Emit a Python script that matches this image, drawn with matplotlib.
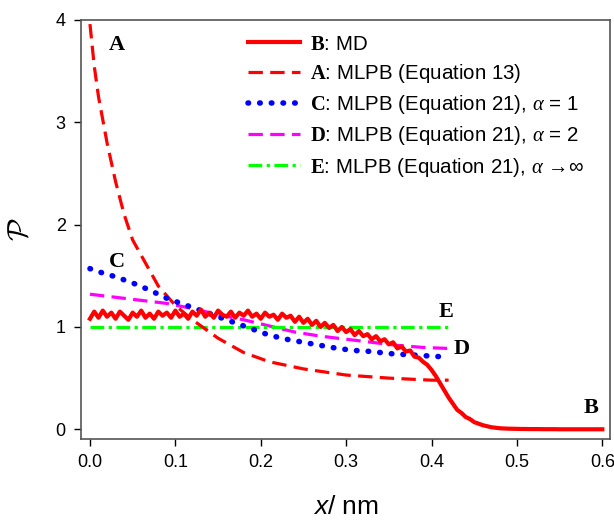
import numpy as np
import matplotlib
matplotlib.use('Agg')
import matplotlib.pyplot as plt

# fonts: Arial-like text, Times-like bold letters
plt.rcParams['font.family'] = ['Liberation Sans', 'DejaVu Sans']
plt.rcParams['mathtext.fontset'] = 'custom'
plt.rcParams['mathtext.rm'] = 'Liberation Sans'
plt.rcParams['mathtext.bf'] = 'Liberation Serif:bold'
plt.rcParams['mathtext.it'] = 'Liberation Serif:italic'
plt.rcParams['mathtext.sf'] = 'Liberation Sans:italic'

# B: MD profile, sampled every 0.005 nm
md_x = np.round(np.arange(0, 0.6001, 0.005), 3)
md_y = [1.08, 1.15, 1.09, 1.16, 1.10, 1.14, 1.08, 1.15, 1.11, 1.07,
        1.14, 1.10, 1.16, 1.09, 1.13, 1.08, 1.15, 1.11, 1.14, 1.09,
        1.16, 1.10, 1.13, 1.08, 1.15, 1.11, 1.17, 1.10, 1.14, 1.09,
        1.16, 1.12, 1.10, 1.15, 1.09, 1.14, 1.11, 1.16, 1.10, 1.13,
        1.08, 1.14, 1.10, 1.12, 1.07, 1.13, 1.09, 1.11, 1.05, 1.10,
        1.04, 1.08, 1.02, 1.06, 1.00, 1.04, 0.99, 1.02, 0.96, 1.00,
        0.95, 0.98, 0.92, 0.96, 0.91, 0.93, 0.88, 0.91, 0.86, 0.88,
        0.83, 0.85, 0.79, 0.81, 0.76, 0.77, 0.71, 0.70, 0.66, 0.63,
        0.58, 0.52, 0.45, 0.38, 0.31, 0.25, 0.19, 0.16, 0.12, 0.10,
        0.07, 0.055, 0.04, 0.03, 0.02, 0.015, 0.01, 0.008, 0.006, 0.005,
        0.004, 0.003, 0.003, 0.002, 0.002, 0.002, 0.001, 0.001, 0.001, 0.001,
        0, 0, 0, 0, 0, 0, 0, 0, 0, 0,
        0]

# A: MLPB (Equation 13)
a_x = [0, 0.005, 0.01, 0.02, 0.03, 0.04, 0.05, 0.06, 0.08, 0.10, 0.12,
       0.15, 0.18, 0.21, 0.25, 0.30, 0.35, 0.40, 0.42]
a_y = [3.96, 3.55, 3.25, 2.80, 2.42, 2.10, 1.85, 1.70, 1.40, 1.21, 1.07,
       0.89, 0.75, 0.66, 0.59, 0.53, 0.50, 0.48, 0.48]

# C: MLPB (Equation 21), alpha = 1
c_x = [0, 0.01, 0.03, 0.05, 0.07, 0.09, 0.11, 0.13, 0.15, 0.17, 0.19,
       0.21, 0.23, 0.25, 0.27, 0.29, 0.31, 0.33, 0.35, 0.37, 0.39, 0.41]
c_y = [1.57, 1.54, 1.49, 1.43, 1.36, 1.28, 1.22, 1.16, 1.10, 1.04, 0.98,
       0.92, 0.88, 0.85, 0.82, 0.79, 0.77, 0.76, 0.74, 0.73, 0.72, 0.71]

# D: MLPB (Equation 21), alpha = 2
d_x = [0, 0.03, 0.06, 0.09, 0.12, 0.15, 0.18, 0.21, 0.24, 0.27, 0.30,
       0.33, 0.36, 0.39, 0.42]
d_y = [1.32, 1.29, 1.26, 1.23, 1.18, 1.12, 1.07, 1.01, 0.95, 0.91, 0.88,
       0.85, 0.82, 0.80, 0.79]

# E: MLPB (Equation 21), alpha -> infinity
e_x = [0, 0.42]
e_y = [1.0, 1.0]

x_ticks = [0.0, 0.1, 0.2, 0.3, 0.4, 0.5, 0.6]
y_ticks = [0, 1, 2, 3, 4]

fig = plt.figure(figsize=(6.14, 5.21), dpi=100)
ax = fig.add_axes([81/614, 82/521, 529/614, 419/521])

lw = 2.3
ax.plot(md_x, md_y, color='#ff0000', lw=3.0, label=r'$\mathbf{B}$: MD', zorder=5)
ax.plot(a_x, a_y, color='#ff0000', lw=lw, dashes=(4.5, 2.3),
        label=r'$\mathbf{A}$: MLPB (Equation 13)', zorder=4)
ax.plot(c_x, c_y, color='#0000ff', lw=4.0, dashes=(0.1, 2.0),
        dash_capstyle='round', label=r'$\mathbf{C}$: MLPB (Equation 21), $\alpha$ = 1', zorder=4)
ax.plot(d_x, d_y, color='#ff00ff', lw=lw, dashes=(4.5, 2.3),
        label=r'$\mathbf{D}$: MLPB (Equation 21), $\alpha$ = 2', zorder=3)
ax.plot(e_x, e_y, color='#00ff00', lw=lw, dashes=(4.3, 1.4, 1.0, 1.4),
        label=r'$\mathbf{E}$: MLPB (Equation 21), $\alpha$ →∞', zorder=3)

# curve letters
lab_font = dict(family='Liberation Serif', weight='bold', fontsize=16)
ax.text(0.032, 3.76, 'A', ha='center', va='center', **lab_font)
ax.text(0.032, 1.63, 'C', ha='center', va='center', **lab_font)
ax.text(0.417, 1.15, 'E', ha='center', va='center', **lab_font)
ax.text(0.435, 0.78, 'D', ha='center', va='center', **lab_font)
ax.text(0.587, 0.21, 'B', ha='center', va='center', **lab_font)

ax.set_xlim(-0.0105, 0.609)
ax.set_ylim(-0.095, 4.0)
ax.set_xticks(x_ticks)
ax.set_xticklabels(['%.1f' % t for t in x_ticks])
ax.set_yticks(y_ticks)
ax.tick_params(direction='out', length=5, width=1, labelsize=13,
               colors='black', top=False, right=False)
ax.tick_params(axis='x', pad=6)
ax.tick_params(axis='y', pad=6)
for sp in ax.spines.values():
    sp.set_color('#555555')
    sp.set_linewidth(1.2)

ax.set_xlabel(r'$\mathsf{x}$/ nm', fontsize=19, va='baseline')
ax.xaxis.set_label_coords(0.5, -(514 - 439) / 419)
ax.set_ylabel(r'$\mathcal{P}$', fontsize=21, math_fontfamily='cm')
ax.yaxis.set_label_coords(-(81 - 34) / 529, 0.5)

ax.legend(loc='upper left', bbox_to_anchor=(0.316, 0.965), frameon=False,
          fontsize=14.8, borderpad=0, borderaxespad=0, handlelength=2.5,
          handletextpad=0.5, labelspacing=0.4)

fig.savefig('out.png', dpi=100)
